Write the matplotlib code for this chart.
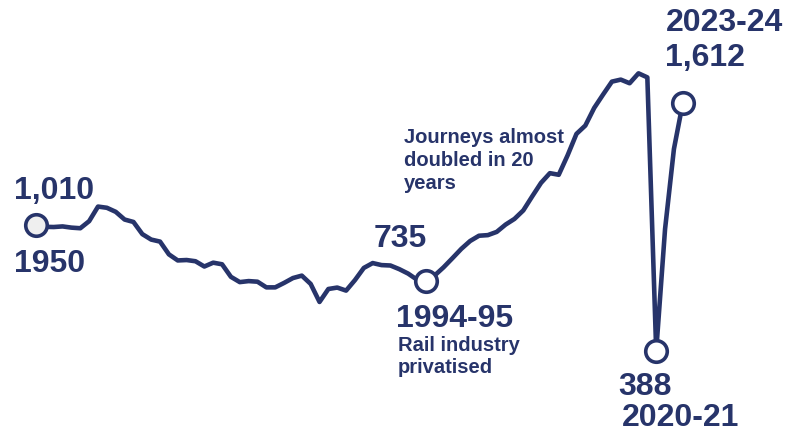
import matplotlib
matplotlib.use("Agg")
import matplotlib.pyplot as plt

# passenger journeys (millions), 1950 to 2023-24
years = list(range(1950, 2024))
journeys = [
    1010, 1001, 1000, 1003, 997, 994, 1029, 1101, 1095, 1075,
    1037, 1025, 965, 938, 928, 865, 835, 837, 831, 805,
    824, 816, 754, 728, 733, 730, 702, 702, 724, 748,
    760, 719, 630, 694, 701, 686, 738, 798, 822, 812,
    810, 792, 770, 740, 735, 761, 801, 846, 892, 931,
    957, 960, 976, 1012, 1040, 1082, 1151, 1218, 1266, 1258,
    1354, 1460, 1501, 1588, 1654, 1718, 1728, 1710, 1759, 1739,
    388, 990, 1385, 1612,
]
navy = "#27346a"

plt.rcParams["font.family"] = ["Liberation Sans", "DejaVu Sans"]
plt.rcParams["font.weight"] = "bold"

fig = plt.figure(figsize=(7.98, 4.33), dpi=100)
ax = fig.add_axes([0, 0, 1, 1])
ax.set_xlim(1950 - 36 / 8.86, 1950 + 762 / 8.86)
ax.set_ylim(1010 - 208 / 0.2025, 1010 + 225 / 0.2025)
ax.axis("off")

ax.plot(years, journeys, color=navy, lw=3.3, solid_joinstyle="round", zorder=2)

# highlighted years
for yr, face in [(1950, "#efefef"), (1994, "white"), (2020, "white"), (2023, "white")]:
    i = years.index(yr)
    ax.plot(yr, journeys[i], "o", ms=15.5, mfc=face, mec=navy, mew=2.6, zorder=3)

big = dict(fontsize=23, color=navy, fontweight="bold", textcoords="offset pixels",
           ha="left", va="baseline")
small = dict(fontsize=14.5, color=navy, fontweight="bold", textcoords="offset pixels",
             ha="left", va="baseline")

def label(yr, text, dx, dy, style, **kw):
    i = years.index(yr)
    ax.annotate(text, xy=(yr, journeys[i]), xytext=(dx, dy), **style, **kw)

label(1950, f"{journeys[0]:,}", -22, 26, big)
label(1950, "1950", -22, -47, big)
label(1994, f"{journeys[44]:,}", -52, 34, big)
label(1994, "1994-95", -30, -46, big)
label(1994, "Rail industry\nprivatised", -28, -92, small, linespacing=1.17)
label(2020, f"{journeys[70]:,}", -38, -44, big)
label(2020, "2020-21", -34, -75, big)
label(2023, f"{journeys[73]:,}", -18, 37, big)
label(2023, "2023-24", -17, 72, big)
label(1994, "Journeys almost\ndoubled in 20\nyears", -22, 92, small, linespacing=1.24)

fig.savefig("out.png", dpi=100)
